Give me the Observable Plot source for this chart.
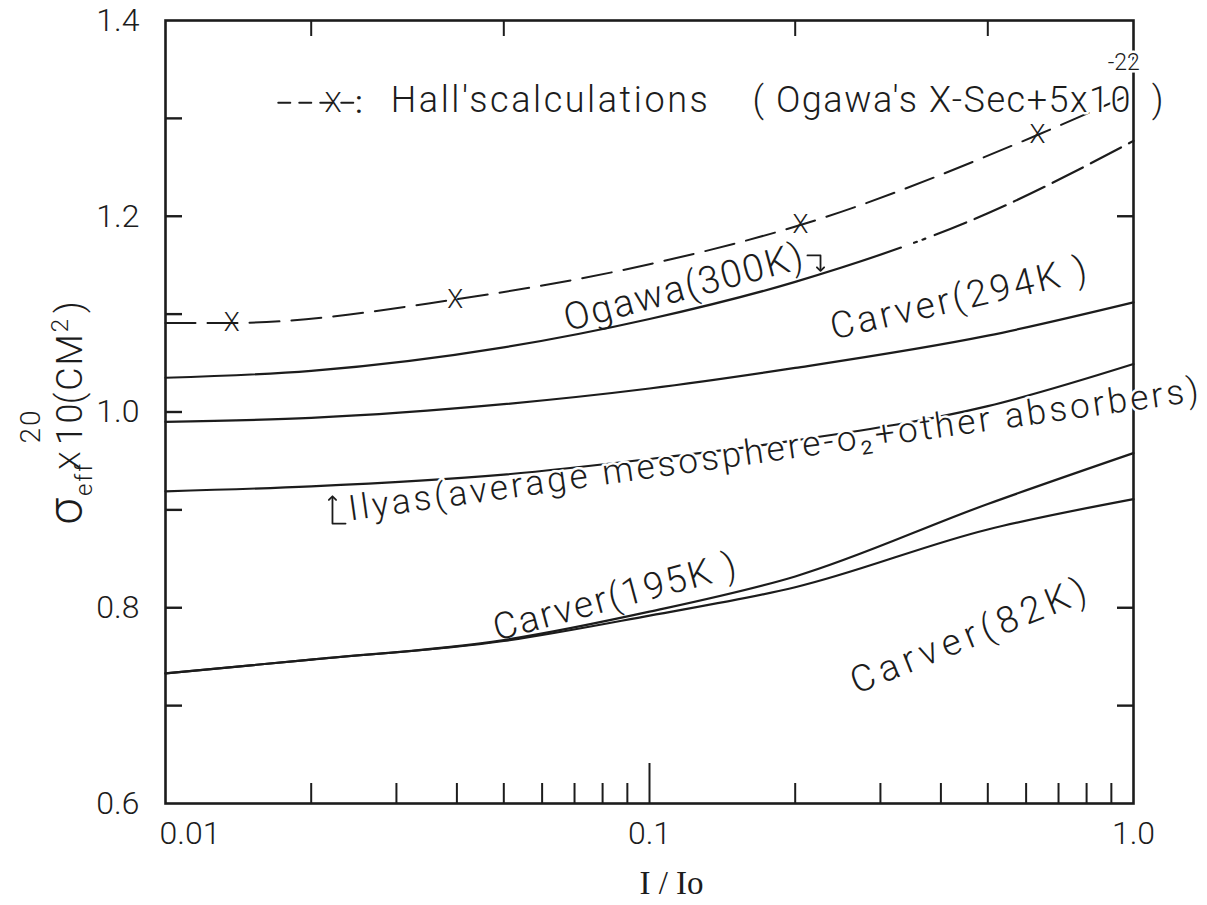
<!DOCTYPE html>
<html>
<head>
<meta charset="utf-8">
<script src="https://cdn.jsdelivr.net/npm/d3@7"></script>
<script src="https://cdn.jsdelivr.net/npm/@observablehq/plot@0.6"></script>
<style>
  html, body { margin: 0; padding: 0; background: #fff; }
  #chart svg { display: block; }
</style>
</head>
<body>
<div id="chart"></div>
<script>
// Effective O2 cross-section (x 1e-20 cm^2) against transmitted fraction I/I0
const ratio      = [0.01, 0.02, 0.05, 0.1, 0.2, 0.5, 1.0];
const ogawa300   = [1.035, 1.042, 1.066, 1.095, 1.133, 1.203, 1.277];
const carver294  = [0.990, 0.994, 1.008, 1.024, 1.045, 1.078, 1.112];
const ilyasAvg   = [0.919, 0.924, 0.936, 0.952, 0.971, 1.006, 1.049];
const carver195  = [0.733, 0.747, 0.767, 0.796, 0.832, 0.906, 0.958];
const carver82   = [0.733, 0.747, 0.766, 0.792, 0.821, 0.880, 0.911];

// Hall's calculations (Ogawa's cross-section + 5x10^-22): curve and computed points
const hallRatio      = [0.01, 0.0137, 0.0397, 0.1, 0.205, 0.633, 1.0];
const hallSigma      = [1.091, 1.091, 1.115, 1.151, 1.191, 1.283, 1.326];
const hallPointRatio = [0.0137, 0.0397, 0.205, 0.633];
const hallPointSigma = [1.091, 1.115, 1.191, 1.283];

// Axis ticks
const yLabelTicks = [0.6, 0.8, 1.0, 1.2, 1.4];
const yInnerTicks = [0.7, 0.8, 0.9, 1.0, 1.1, 1.2, 1.3];
const yRightTicks = [0.7, 0.8, 1.2];
const xLabelTicks = [0.01, 0.1, 1.0];
const xTickLabels = ["0.01", "0.1", "1.0"];
const xMinorTicks = [0.02, 0.03, 0.04, 0.05, 0.06, 0.07, 0.08, 0.09, 0.2, 0.3, 0.4, 0.5, 0.6, 0.7, 0.8, 0.9];
const xTopTicks   = [0.02, 0.05, 0.2, 0.5];

const ink = "#1c1c1c";
const font = "Roboto, 'DejaVu Sans', sans-serif";
const weight = 300;

const series = ys => ratio.map((x, i) => ({x, y: ys[i]}));
const hall = hallRatio.map((x, i) => ({x, y: hallSigma[i]}));
const hallPoints = hallPointRatio.map((x, i) => ({x, y: hallPointSigma[i]}));

// Curve labels placed in data coordinates
const notes = [
  {text: "Ogawa(300K)", x: 0.1175, y: 1.127, rotate: -15, size: 38, len: 246, anchor: "middle", halo: false},
  {text: "Carver(294K )", x: 0.435, y: 1.116, rotate: -13, size: 37, len: 262, anchor: "middle", halo: false},
  {text: "Ilyas(average mesosphere-o\u2082+other absorbers)", x: 0.0239, y: 0.9005, rotate: -8, size: 35, len: 858, anchor: "start", halo: true},
  {text: "Carver(195K )", x: 0.0847, y: 0.811, rotate: -15, size: 37, len: 250, anchor: "middle", halo: false},
  {text: "Carver(82K)", x: 0.456, y: 0.771, rotate: -22, size: 37, len: 251, anchor: "middle", halo: false},
  {text: "Hall'scalculations", x: 0.0292, y: 1.318, rotate: 0, size: 36, len: 317, anchor: "start", halo: true},
  {text: "( Ogawa's X-Sec+5x10", x: 0.1633, y: 1.318, rotate: 0, size: 36, len: 378, anchor: "start", halo: true},
  {text: "-22", x: 0.955, y: 1.357, rotate: 0, size: 23, len: 0, anchor: "middle", halo: true},
  {text: ")", x: 1.121, y: 1.318, rotate: 0, size: 36, len: 0, anchor: "middle", halo: true}
];

const curve = (ys, extra = {}) =>
  Plot.line(series(ys), {x: "x", y: "y", curve: "monotone-x", stroke: ink, strokeWidth: 2.2, ...extra});

const noteMarks = notes.map(n => Plot.text([n], {
  x: "x", y: "y", text: "text", rotate: n.rotate, fontSize: n.size, textAnchor: n.anchor,
  lineAnchor: "middle", fill: ink, fontWeight: weight,
  ...(n.halo ? {stroke: "white", strokeWidth: 5} : {})
}));

const svg = Plot.plot({
  width: 1207,
  height: 905,
  marginLeft: 165,
  marginRight: 74,
  marginTop: 20,
  marginBottom: 102,
  style: {background: "white", fontFamily: font, color: ink},
  x: {type: "log", domain: [0.01, 1]},
  y: {domain: [0.6, 1.4]},
  marks: [
    Plot.frame({stroke: ink, strokeWidth: 2.6}),

    // y axis: labels outside, ticks pointing inward on both sides
    Plot.axisY(yLabelTicks, {anchor: "left", tickSize: 0, tickPadding: 26, fontSize: 32, fontWeight: weight,
      tickFormat: d3.format(".1f"), label: null, fill: ink}),
    Plot.axisY(yInnerTicks, {anchor: "left", tickSize: -17, fill: "none", stroke: ink, strokeWidth: 2.4}),
    Plot.axisY(yRightTicks, {anchor: "right", tickSize: -17, fill: "none", stroke: ink, strokeWidth: 2.4}),

    // x axis (log): decade labels, inward minor ticks, longer tick at 0.1, top ticks
    Plot.axisX([xLabelTicks[0]], {anchor: "bottom", tickSize: 0, tickPadding: 18, fontSize: 32, fontWeight: weight,
      textAnchor: "start", dx: -6, tickFormat: d => xTickLabels[xLabelTicks.indexOf(d)], label: null, fill: ink}),
    Plot.axisX(xLabelTicks.slice(1), {anchor: "bottom", tickSize: 0, tickPadding: 18, fontSize: 32, fontWeight: weight,
      tickFormat: d => xTickLabels[xLabelTicks.indexOf(d)], label: null, fill: ink}),
    Plot.axisX(xMinorTicks, {anchor: "bottom", tickSize: -20, fill: "none", stroke: ink, strokeWidth: 2}),
    Plot.axisX([0.1], {anchor: "bottom", tickSize: -40, fill: "none", stroke: ink, strokeWidth: 2}),
    Plot.axisX(xTopTicks, {anchor: "top", tickSize: -15, fill: "none", stroke: ink, strokeWidth: 2}),
    Plot.text(["I / Io"], {frameAnchor: "bottom", dx: 22, dy: 80, lineAnchor: "middle",
      fontSize: 33, fontWeight: "normal", fontFamily: "'Liberation Serif', 'DejaVu Serif', serif", fill: ink}),

    // computed curves
    curve(ogawa300, {strokeDasharray: "750 14 3 6 3 10 34 9 34 9 34 9 34 9 34 9 34 9 34 9"}),
    curve(carver294),
    curve(ilyasAvg),
    curve(carver195),
    curve(carver82),

    // Hall's calculations
    Plot.line(hall, {x: "x", y: "y", curve: "monotone-x", stroke: ink, strokeWidth: 2, strokeDasharray: "30 12"}),
    Plot.text(hallPoints, {x: "x", y: "y", text: () => "X", fontSize: 26, fontWeight: weight, lineAnchor: "middle", fill: ink}),

    // legend sample  - -X-:
    Plot.line([{x: 0.0171, y: 1.316}, {x: 0.0247, y: 1.316}], {x: "x", y: "y", stroke: ink, strokeWidth: 2, strokeDasharray: "12 9"}),
    Plot.text([{x: 0.0222, y: 1.316}], {x: "x", y: "y", text: () => "X", fontSize: 28, fontWeight: weight, lineAnchor: "middle", fill: ink}),
    Plot.text([{x: 0.0251, y: 1.316}], {x: "x", y: "y", text: () => ":", fontSize: 32, lineAnchor: "middle", fill: ink}),

    // pointer arrows from labels to their curves
    Plot.line([{x: 0.212, y: 1.160}, {x: 0.2256, y: 1.160}, {x: 0.2256, y: 1.146}],
      {x: "x", y: "y", stroke: ink, strokeWidth: 1.8, markerEnd: "arrow"}),
    Plot.line([{x: 0.02355, y: 0.886}, {x: 0.02213, y: 0.886}, {x: 0.02213, y: 0.912}],
      {x: "x", y: "y", stroke: ink, strokeWidth: 1.8, markerEnd: "arrow"}),

    ...noteMarks
  ]
});

document.getElementById("chart").append(svg);

// stretch label text to its lettering width
const lengths = new Map(notes.filter(n => n.len).map(n => [n.text, n.len]));
d3.select(svg).selectAll("text").each(function () {
  const L = lengths.get(this.textContent);
  if (L) { this.setAttribute("textLength", L); this.setAttribute("lengthAdjust", "spacing"); }
});

// y-axis title:  sigma_eff X 10^20 (CM^2)
const yt = d3.select(svg).append("text")
  .attr("transform", "translate(82,412) rotate(-90)")
  .attr("text-anchor", "middle")
  .attr("fill", ink)
  .attr("font-weight", weight)
  .style("font-family", font)
  .style("letter-spacing", "2px");
yt.append("tspan").attr("font-size", 48).text("σ");
yt.append("tspan").attr("font-size", 24).attr("dy", 10).text("eff");
yt.append("tspan").attr("font-size", 30).attr("dx", -8).attr("dy", -12).text("X");
yt.append("tspan").attr("font-size", 36).attr("dx", 4).attr("dy", 2).text("10");
yt.append("tspan").attr("font-size", 28).attr("dx", -42).attr("dy", -42).text("20");
yt.append("tspan").attr("font-size", 36).attr("dx", 4).attr("dy", 42).text("(CM");
yt.append("tspan").attr("font-size", 24).attr("dy", -14).text("2");
yt.append("tspan").attr("font-size", 36).attr("dx", 4).attr("dy", 14).text(")");
</script>
</body>
</html>
